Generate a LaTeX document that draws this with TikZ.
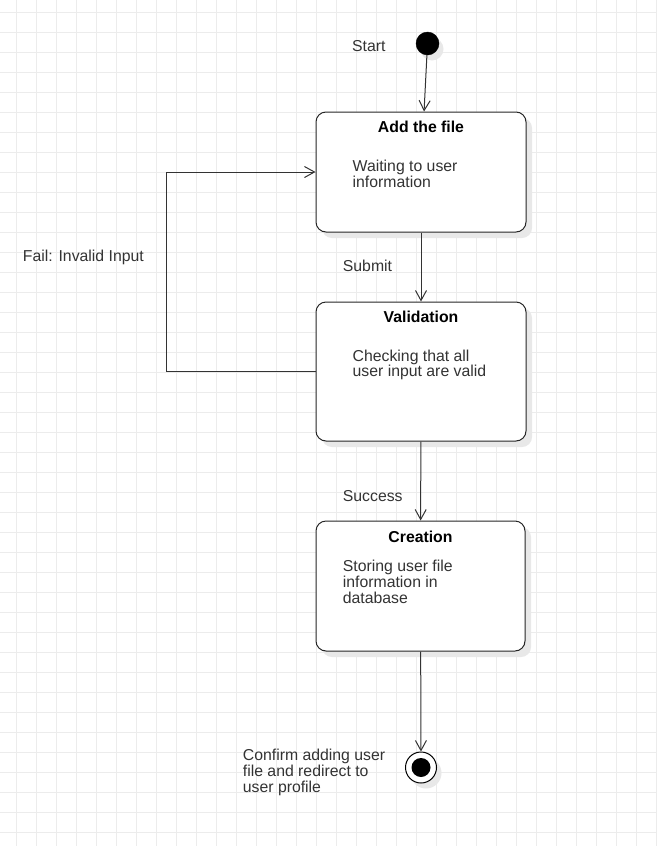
\documentclass[tikz,border=0pt]{standalone}
\usepackage{fontspec}
\setmainfont{Liberation Sans}
\usetikzlibrary{arrows.meta}
\definecolor{gridc}{RGB}{236,236,236}
\definecolor{linec}{RGB}{51,51,51}
\definecolor{textc}{RGB}{51,51,51}
\definecolor{shadowc}{RGB}{232,232,232}
\tikzset{
  gridline/.style={draw=gridc, line width=1pt},
  statebox/.style={draw=black!85, fill=white, rounded corners=10pt, line width=1pt, inner sep=0pt},
  shadowbox/.style={fill=shadowc, rounded corners=10pt, draw=none, inner sep=0pt},
  title/.style={font=\fontsize{15.8}{15.7}\selectfont\bfseries, text=black, inner sep=0pt, anchor=base},
  body/.style={font=\fontsize{15.8}{15.7}\selectfont, text=textc, inner sep=0pt, anchor=base west, align=left},
  conn/.style={draw=linec, line width=1pt, -{Straight Barb[length=10pt,width=11pt,line width=1pt]}},
}
\begin{document}
\begin{tikzpicture}[x=1pt,y=-1pt]
\useasboundingbox (0,0) rectangle (657,846);
\fill[white] (0,0) rectangle (657,846);
\foreach \x in {16,36,...,656} \draw[gridline] (\x,0) -- (\x,846);
\foreach \y in {12,32,...,842} \draw[gridline] (0,\y) -- (657,\y);

% shadows
\fill[shadowc] (432,49) circle (11.5);
\node[shadowbox, minimum width=210pt, minimum height=120pt] at (427,178) {};
\node[shadowbox, minimum width=210pt, minimum height=139pt] at (427,377.5) {};
\node[shadowbox, minimum width=209pt, minimum height=130pt] at (426.5,592) {};
\fill[shadowc] (426,773) circle (15.5);

% start
\node[circle, fill=black, draw=black, minimum size=23pt, inner sep=0pt] (start) at (427.5,43.5) {};
\node[body] (startlbl) at (352,51) {Start};

% boxes (multi-line texts are placed by the baseline of their last line)
\node[statebox, minimum width=210pt, minimum height=120pt] (box1) at (421,172) {};
\node[title] (t1) at (421,132.7) {Add the file};
\node[body] (b1) at (352.5,187.5) {Waiting to user\\information};

\node[statebox, minimum width=210pt, minimum height=139pt] (box2) at (421,371.5) {};
\node[title] (t2) at (421,322.7) {Validation};
\node[body] (b2) at (352.5,376.9) {Checking that all\\user input are valid};

\node[statebox, minimum width=209pt, minimum height=130pt] (box3) at (420.5,586) {};
\node[title] (t3) at (420.5,542.7) {Creation};
\node[body] (b3) at (342.7,603.2) {Storing user file\\information in\\database};

% end
\node[circle, draw=black, fill=white, line width=1pt, minimum size=31pt, inner sep=0pt] (endo) at (421,767.5) {};
\node[circle, fill=black, minimum size=19pt, inner sep=0pt] (endi) at (421,767.5) {};
\node[body] (endlbl) at (242.7,792.2) {Confirm adding user\\file and redirect to\\user profile};

% labels
\node[body] (submit) at (342.7,271) {Submit};
\node[body] (success) at (342.7,501) {Success};
\node[body] (fail) at (22.7,261) {Fail: Invalid Input};

% connectors
\draw[conn] (start) -- (box1);
\draw[conn] (box1) -- (box2);
\draw[conn] (box2) -- (box3);
\draw[conn] (box3) -- (endo);
\coordinate (loopc) at (166,371.5);
\draw[conn] (box2.west) -- (loopc) |- (box1.west);
\end{tikzpicture}
\end{document}
